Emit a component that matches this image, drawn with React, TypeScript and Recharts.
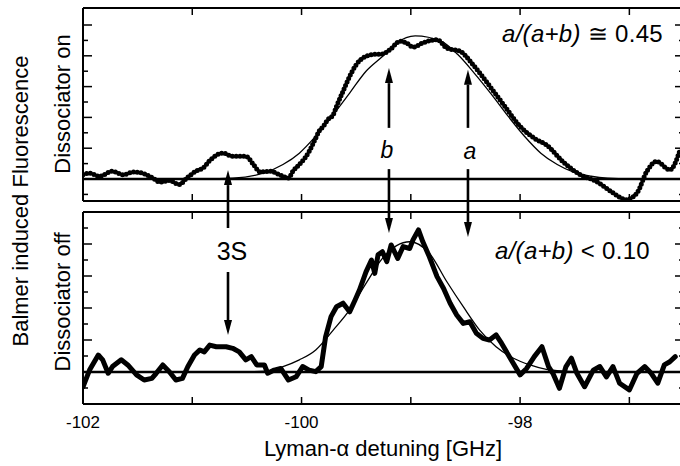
import React from 'react'
import { LineChart, Line, XAxis, YAxis, ReferenceLine } from 'recharts'

const FONT = '"Liberation Sans", Arial, Helvetica, sans-serif'

// detuning in GHz, signal in major-tick units above the baseline
const onDetuning = [-102.0, -101.94, -101.85, -101.73, -101.63, -101.54, -101.44, -101.36, -101.3, -101.21, -101.12, -101.05, -100.96, -100.9, -100.84, -100.72, -100.63, -100.51, -100.44, -100.38, -100.29, -100.2, -100.12, -100.08, -100.02, -99.97, -99.93, -99.9, -99.87, -99.84, -99.8, -99.76, -99.71, -99.68, -99.62, -99.56, -99.5, -99.44, -99.35, -99.26, -99.19, -99.1, -99.04, -98.98, -98.89, -98.76, -98.67, -98.55, -98.43, -98.3, -98.15, -98.0, -97.85, -97.76, -97.61, -97.45, -97.3, -97.15, -97.03, -96.93, -96.84, -96.75, -96.63, -96.54]
const onSignal = [0.14, 0.19, 0.09, 0.25, 0.14, 0.23, 0.17, 0.03, -0.1, -0.05, -0.18, 0.03, 0.27, 0.36, 0.6, 0.84, 0.74, 0.74, 0.47, 0.23, 0.25, 0.14, 0.03, 0.25, 0.47, 0.68, 0.9, 1.11, 1.33, 1.55, 1.71, 1.93, 2.09, 2.36, 2.85, 3.33, 3.71, 3.93, 4.04, 4.06, 4.2, 4.47, 4.42, 4.28, 4.42, 4.52, 4.25, 4.15, 3.71, 3.12, 2.41, 1.71, 1.28, 1.11, 0.57, 0.14, -0.08, -0.45, -0.67, -0.45, 0.25, 0.57, 0.3, 0.9]

const onFitDetuning = [-102, -101.0, -100.63, -100.35, -100.17, -100.02, -99.87, -99.71, -99.56, -99.41, -99.26, -99.13, -98.96, -98.72, -98.57, -98.42, -98.26, -98.11, -97.96, -97.81, -97.66, -97.51, -97.35, -97.2, -96.9, -96.5]
const onFitSignal = [0, 0, 0.03, 0.19, 0.47, 0.84, 1.39, 2.09, 2.79, 3.5, 3.98, 4.42, 4.65, 4.47, 4.04, 3.44, 2.74, 2.04, 1.39, 0.84, 0.47, 0.22, 0.09, 0.03, 0, 0]

const offDetuning = [-102.0, -101.94, -101.86, -101.82, -101.77, -101.73, -101.65, -101.59, -101.51, -101.44, -101.37, -101.33, -101.27, -101.21, -101.15, -101.09, -101.04, -100.98, -100.93, -100.89, -100.84, -100.78, -100.69, -100.63, -100.57, -100.51, -100.46, -100.41, -100.34, -100.31, -100.25, -100.19, -100.12, -100.05, -99.99, -99.93, -99.87, -99.82, -99.78, -99.73, -99.68, -99.62, -99.56, -99.51, -99.47, -99.41, -99.36, -99.33, -99.3, -99.26, -99.22, -99.18, -99.12, -99.07, -99.01, -98.98, -98.93, -98.89, -98.83, -98.76, -98.7, -98.64, -98.58, -98.52, -98.46, -98.4, -98.34, -98.28, -98.22, -98.17, -98.09, -98.0, -97.94, -97.87, -97.8, -97.74, -97.7, -97.64, -97.58, -97.53, -97.48, -97.41, -97.33, -97.27, -97.21, -97.15, -97.09, -97.0, -96.93, -96.86, -96.8, -96.74, -96.68, -96.63, -96.58]
const offSignal = [-0.46, 0.06, 0.53, 0.38, -0.04, 0.17, 0.38, 0.22, -0.09, -0.25, -0.2, -0.04, 0.22, 0.01, -0.25, -0.2, 0.17, 0.53, 0.69, 0.63, 0.84, 0.79, 0.79, 0.74, 0.63, 0.38, 0.48, 0.22, 0.22, -0.04, 0.06, 0.11, -0.25, -0.15, 0.17, 0.06, 0.01, 0.17, 1.1, 1.73, 2.04, 2.15, 1.88, 2.25, 2.56, 3.13, 3.5, 3.08, 3.66, 3.76, 3.45, 3.97, 3.55, 3.92, 3.86, 4.13, 4.44, 4.07, 3.6, 2.98, 2.61, 2.15, 1.78, 1.52, 1.57, 1.21, 1.05, 1.0, 1.16, 0.9, 0.43, -0.09, 0.11, 0.48, 0.79, 0.17, -0.04, -0.51, 0.17, 0.43, -0.04, -0.46, 0.06, 0.17, -0.15, 0.17, -0.35, -0.56, -0.04, 0.17, -0.04, -0.35, 0.22, 0.32, 0.48]

const offFitDetuning = [-102, -100.6, -100.32, -100.17, -100.02, -99.87, -99.71, -99.56, -99.41, -99.26, -99.13, -99.01, -98.83, -98.67, -98.52, -98.37, -98.22, -98.06, -97.91, -97.76, -97.61, -97.3, -96.5]
const offFitSignal = [0, 0, 0.03, 0.17, 0.38, 0.69, 1.31, 1.94, 2.77, 3.55, 3.95, 4.07, 3.71, 2.82, 2.04, 1.31, 0.79, 0.43, 0.22, 0.08, 0.03, 0, 0]

const xTicks = [-102, -101, -100, -99, -98, -97]
const xTickLabels = ['-102', '', '-100', '', '-98', '']
const onYTicks = [-0.5, 0, 0.5, 1, 1.5, 2, 2.5, 3, 3.5, 4, 4.5, 5]
const offYTicks = [-0.5, 0, 0.5, 1, 1.5, 2, 2.5, 3, 3.5, 4, 4.5]

const X_DOMAIN = [-102, -96.5]
const ON_DOMAIN = [-0.714, 5.552]
const OFF_DOMAIN = [-1, 5]

// arrows: detuning, tail value, tip value (in each panel's units)
const onArrows = [[-100.673, -1.59, 0.29], [-99.2, 1.66, 3.6], [-98.477, 1.66, 3.55]]
const offArrows = [[-100.673, 3.125, 1.156], [-99.2, 6.34, 4.34], [-98.477, 6.34, 4.22]]

const zip = (xs: number[], ys: number[]) => xs.map((x, i) => ({ x, y: ys[i] }))

const AXIS = { stroke: '#000', strokeWidth: 2 }

function ArrowShape(props: any) {
    const { x1, y1, x2, y2 } = props
    const dir = y2 < y1 ? -1 : 1
    const head = 15
    const half = 4
    return (
        <g>
            <line x1={x1} y1={y1} x2={x2} y2={y2 - dir * head} stroke="#000" strokeWidth={2.6} />
            <polygon points={`${x2},${y2} ${x2 - half},${y2 - dir * head} ${x2 + half},${y2 - dir * head}`} fill="#000" />
        </g>
    )
}

const bottomTick = (showLabels: boolean) => (p: any) => {
    const i = xTicks.indexOf(p.payload.value)
    return (
        <g>
            <line x1={p.x} y1={p.y} x2={p.x} y2={p.y - 7} stroke="#000" strokeWidth={1.5} />
            {showLabels && xTickLabels[i] ? (
                <text x={p.x} y={p.y + 24} textAnchor="middle" fontFamily={FONT} fontSize={17} fill="#000">{xTickLabels[i]}</text>
            ) : null}
        </g>
    )
}

const topTick = (p: any) => <line x1={p.x} y1={p.y} x2={p.x} y2={p.y + 7} stroke="#000" strokeWidth={1.5} />

const leftTick = (p: any) => {
    const len = Number.isInteger(p.payload.value) ? 9 : 5
    return <line x1={p.x} y1={p.y} x2={p.x + len} y2={p.y} stroke="#000" strokeWidth={1.5} />
}

const rightTick = (p: any) => {
    const len = Number.isInteger(p.payload.value) ? 9 : 5
    return <line x1={p.x} y1={p.y} x2={p.x - len} y2={p.y} stroke="#000" strokeWidth={1.5} />
}

function Panel({ data, fit, yDomain, yTicks, arrows, margin, showLabels, dotted }: any) {
    return (
        <div style={{ position: 'absolute', left: 0, top: 0 }}>
            <LineChart width={690} height={466} margin={margin}>
                <XAxis type="number" dataKey="x" domain={X_DOMAIN} allowDataOverflow ticks={xTicks} interval={0}
                    height={1} tickSize={0} tickMargin={0} tickLine={false} axisLine={AXIS} tick={bottomTick(showLabels)} />
                <XAxis xAxisId="t" orientation="top" type="number" dataKey="x" domain={X_DOMAIN} allowDataOverflow ticks={xTicks} interval={0}
                    height={1} tickSize={0} tickMargin={0} tickLine={false} axisLine={AXIS} tick={topTick} />
                <YAxis type="number" domain={yDomain} allowDataOverflow ticks={yTicks} interval={0}
                    width={1} tickSize={0} tickMargin={0} tickLine={false} axisLine={AXIS} tick={leftTick} />
                <YAxis yAxisId="r" orientation="right" type="number" domain={yDomain} allowDataOverflow ticks={yTicks} interval={0}
                    width={1} tickSize={0} tickMargin={0} tickLine={false} axisLine={AXIS} tick={rightTick} />
                <ReferenceLine y={0} stroke="#000" strokeWidth={2.4} />
                <Line data={fit} dataKey="y" type="monotone" stroke="#000" strokeWidth={1.3} dot={false} isAnimationActive={false} />
                {dotted ? (
                    <Line data={data} dataKey="y" type="monotone" stroke="#000" strokeWidth={5} strokeLinecap="round"
                        strokeDasharray="0 3.8" dot={false} isAnimationActive={false} />
                ) : (
                    <Line data={data} dataKey="y" type="linear" stroke="#000" strokeWidth={5} strokeLinejoin="round"
                        strokeLinecap="round" dot={false} isAnimationActive={false} />
                )}
                <Line data={fit} xAxisId="t" yAxisId="r" dataKey="y" stroke="none" dot={false} isAnimationActive={false} />
                {arrows.map((a: number[], i: number) => (
                    <ReferenceLine key={i} segment={[{ x: a[0], y: a[1] }, { x: a[0], y: a[2] }]} ifOverflow="visible" shape={ArrowShape} />
                ))}
            </LineChart>
        </div>
    )
}

export default function App() {
    const t = { fontFamily: FONT, fill: '#000' }
    return (
        <div style={{ position: 'absolute', left: 0, top: 0, width: 680, height: 466, overflow: 'hidden', background: '#fff' }}>
            <Panel data={zip(onDetuning, onSignal)} fit={zip(onFitDetuning, onFitSignal)} yDomain={ON_DOMAIN} yTicks={onYTicks}
                arrows={onArrows} margin={{ top: 7, right: 5, bottom: 264, left: 82 }} showLabels={false} dotted />
            <Panel data={zip(offDetuning, offSignal)} fit={zip(offFitDetuning, offFitSignal)} yDomain={OFF_DOMAIN} yTicks={offYTicks}
                arrows={offArrows} margin={{ top: 211, right: 5, bottom: 61, left: 82 }} showLabels />
            <svg width={680} height={466} style={{ position: 'absolute', left: 0, top: 0, pointerEvents: 'none' }}>
                <text {...t} fontSize={22} textAnchor="middle" transform="translate(28,201) rotate(-90)">Balmer induced Fluorescence</text>
                <text {...t} fontSize={22} textAnchor="middle" transform="translate(70,104) rotate(-90)">Dissociator on</text>
                <text {...t} fontSize={22} textAnchor="middle" transform="translate(70,302) rotate(-90)">Dissociator off</text>
                <text {...t} fontSize={22} textAnchor="middle" x={383} y={456}>Lyman-α detuning [GHz]</text>
                <text {...t} fontSize={24} letterSpacing={0.3} x={502} y={42}><tspan fontStyle="italic">a/(a+b)</tspan> ≅ 0.45</text>
                <text {...t} fontSize={24} letterSpacing={0.3} x={495} y={259}><tspan fontStyle="italic">a/(a+b)</tspan> &lt; 0.10</text>
                <text {...t} fontSize={23} fontStyle="italic" textAnchor="middle" x={387} y={158}>b</text>
                <text {...t} fontSize={23} fontStyle="italic" textAnchor="middle" x={470} y={159}>a</text>
                <text {...t} fontSize={25} textAnchor="middle" x={232} y={260}>3S</text>
            </svg>
        </div>
    )
}
